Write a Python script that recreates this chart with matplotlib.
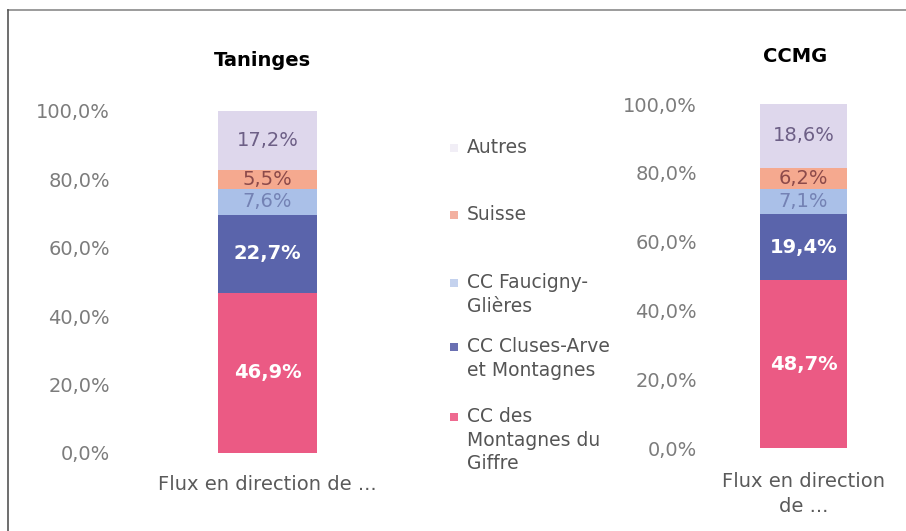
import matplotlib
matplotlib.use("Agg")
import matplotlib.pyplot as plt
from matplotlib.lines import Line2D
from matplotlib.patches import Rectangle

# ---- data ----
series = ["CC des Montagnes du Giffre", "CC Cluses-Arve et Montagnes",
          "CC Faucigny-Glières", "Suisse", "Autres"]
legend_labels = ["CC des\nMontagnes du\nGiffre", "CC Cluses-Arve\net Montagnes",
                 "CC Faucigny-\nGlières", "Suisse", "Autres"]
taninges = [46.9, 22.7, 7.6, 5.5, 17.2]
ccmg = [48.7, 19.4, 7.1, 6.2, 18.6]
titles = ["Taninges", "CCMG"]
yticks = [0, 20, 40, 60, 80, 100]
ytick_labels = ["0,0%", "20,0%", "40,0%", "60,0%", "80,0%", "100,0%"]
xlabels = ["Flux en direction de ...", "Flux en direction\nde ..."]

colors = ["#eb5a84", "#5a64ab", "#aac0e8", "#f5a98f", "#ded7ec"]
label_colors = ["white", "white", "#7482b4", "#8c4a4a", "#6d5f86"]
label_bold = [True, True, False, False, False]
legend_sq_colors = ["#ee6a90", "#6a70b2", "#c4d2ee", "#f3b0a0", "#f1eef6"]

W, H = 906, 531
fig = plt.figure(figsize=(W / 100, H / 100), dpi=100)
fig.patch.set_facecolor("white")

def fx(px):
    return px / W

def fy(py):
    return 1 - py / H

FONT = "DejaVu Sans"

# axes geometry (pixels): left, right, top(100%), bottom(0%), ytick pad, xtick pad
geoms = [(218, 317, 111, 453, 108, 16), (760, 847, 104, 448, 63, 17)]
datasets = [taninges, ccmg]

for (l, r, t, b, pad, xpad), data, title, xl in zip(geoms, datasets, titles, xlabels):
    ax = fig.add_axes([fx(l), fy(b), fx(r) - fx(l), fy(t) - fy(b)])
    bottom = 0.0
    for i, v in enumerate(data):
        ax.bar([0], [v], bottom=bottom, width=1.0, color=colors[i], edgecolor="none")
        ax.text(0, bottom + v / 2, f"{v:.1f}%".replace(".", ","),
                ha="center", va="center", fontsize=14, family=FONT,
                color=label_colors[i],
                fontweight="bold" if label_bold[i] else "normal")
        bottom += v
    ax.set_xlim(-0.5, 0.5)
    ax.set_ylim(0, 100)
    ax.set_yticks(yticks)
    ax.set_yticklabels(ytick_labels, fontsize=14, family=FONT, color="#7c7c7c")
    ax.tick_params(axis="y", length=0, pad=pad * 0.72)
    ax.set_xticks([0])
    ax.set_xticklabels([xl], fontsize=14, family=FONT, color="#5a5a5a",
                       linespacing=1.45)
    ax.tick_params(axis="x", length=0, pad=xpad)
    for s in ax.spines.values():
        s.set_visible(False)
    ax.set_facecolor("none")

fig.text(fx(262), fy(60), titles[0], ha="center", va="center",
         fontsize=14, fontweight="bold", family=FONT, color="black")
fig.text(fx(795), fy(57), titles[1], ha="center", va="center",
         fontsize=14, fontweight="bold", family=FONT, color="black")

# legend (top to bottom: Autres ... CC des Montagnes du Giffre)
leg_first_y = [417, 347, 283, 215, 148]
for i in range(len(series)):
    y0 = leg_first_y[i]
    fig.patches.append(Rectangle((fx(450), fy(y0 + 4)), fx(8), 8 / H,
                                 transform=fig.transFigure,
                                 facecolor=legend_sq_colors[i], edgecolor="none"))
    fig.text(fx(467), fy(y0 - 10), legend_labels[i], ha="left", va="top",
             fontsize=13.5, family=FONT, color="#555555", linespacing=1.3)

# chart border (top and left)
fig.lines.append(Line2D([fx(8), fx(906)], [fy(10), fy(10)],
                        transform=fig.transFigure, color="#8a8a8a", lw=1.2))
fig.lines.append(Line2D([fx(8), fx(8)], [fy(10), fy(531)],
                        transform=fig.transFigure, color="#555555", lw=1.2))

fig.savefig("out.png", dpi=100, facecolor="white")
